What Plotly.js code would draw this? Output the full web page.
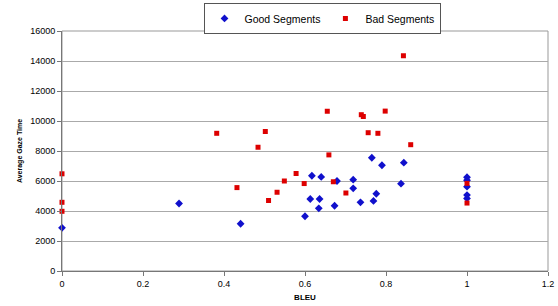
<!DOCTYPE html>
<html>
<head>
<meta charset="utf-8">
<script src="https://cdn.plot.ly/plotly-3.0.1.min.js"></script>
<style>html,body{margin:0;padding:0;background:#fff;}#chart{width:558px;height:306px;}</style>
</head>
<body>
<div id="chart"></div>
<script>
const goodBleu = [0, 0.289, 0.441, 0.600, 0.613, 0.617, 0.634, 0.636, 0.640, 0.673, 0.679, 0.719, 0.719, 0.737, 0.765, 0.769, 0.776, 0.790, 0.837, 0.844, 1, 1, 1, 1, 1];
const goodGaze = [2880, 4500, 3150, 3650, 4800, 6350, 4180, 4800, 6270, 4350, 6000, 6090, 5510, 4580, 7550, 4670, 5150, 7050, 5820, 7220, 6250, 6050, 5620, 5060, 4840];
const badBleu = [0, 0, 0, 0.382, 0.432, 0.484, 0.502, 0.510, 0.531, 0.549, 0.578, 0.598, 0.655, 0.659, 0.670, 0.701, 0.739, 0.744, 0.756, 0.780, 0.798, 0.843, 0.861, 1, 1];
const badGaze = [6480, 4580, 3980, 9180, 5560, 8250, 9300, 4700, 5250, 6000, 6500, 5830, 10650, 7740, 5950, 5200, 10420, 10300, 9220, 9180, 10660, 14350, 8420, 5840, 4530];
const xTicks = [0, 0.2, 0.4, 0.6, 0.8, 1, 1.2];
const yTicks = [0, 2000, 4000, 6000, 8000, 10000, 12000, 14000, 16000];

const font = 'Arial, "Liberation Sans", sans-serif';
const traces = [
  {x: goodBleu, y: goodGaze, type: 'scatter', mode: 'markers', name: 'Good Segments', cliponaxis: false,
   marker: {symbol: 'diamond', size: 6, color: '#1010CC'}},
  {x: badBleu, y: badGaze, type: 'scatter', mode: 'markers', name: 'Bad Segments', cliponaxis: false,
   marker: {symbol: 'square', size: 5, color: '#DD0000'}}
];
const layout = {
  width: 558, height: 306,
  margin: {l: 62, r: 10, t: 31, b: 35, autoexpand: false},
  paper_bgcolor: '#fff', plot_bgcolor: '#fff',
  showlegend: true,
  legend: {orientation: 'h', x: 0.535, xanchor: 'center', y: 1.117, yanchor: 'top',
    bordercolor: '#555', borderwidth: 1, font: {family: font, size: 10.5, color: '#000'},
    itemwidth: 30, tracegroupgap: 0, entrywidthmode: 'pixels'},
  xaxis: {range: [0, 1.2], tickvals: xTicks, ticktext: xTicks.map(String), showgrid: false, zeroline: false,
    showline: true, linecolor: '#777', linewidth: 1, ticks: 'outside', ticklen: 4, tickcolor: '#777',
    mirror: false, tickfont: {family: font, size: 9, color: '#000'},
    title: {text: '<b>BLEU</b>', font: {family: font, size: 8, color: '#000'}, standoff: 6}},
  yaxis: {range: [0, 16000], tickvals: yTicks, ticktext: yTicks.map(String), showgrid: true, gridcolor: '#aaa',
    gridwidth: 1, zeroline: false, showline: true, linecolor: '#777', linewidth: 1, ticks: 'outside', ticklen: 4,
    tickcolor: '#777', tickfont: {family: font, size: 9, color: '#000'},
    title: {text: '<b>Average Gaze Time</b>', font: {family: font, size: 7, color: '#000'}, standoff: 6}},
  shapes: [{type: 'rect', xref: 'paper', yref: 'paper', x0: 0, x1: 1, y0: 0, y1: 1,
    line: {color: '#999', width: 1}, fillcolor: 'rgba(0,0,0,0)', layer: 'below'}]
};
Plotly.newPlot('chart', traces, layout, {displayModeBar: false, staticPlot: true});
</script>
</body>
</html>
